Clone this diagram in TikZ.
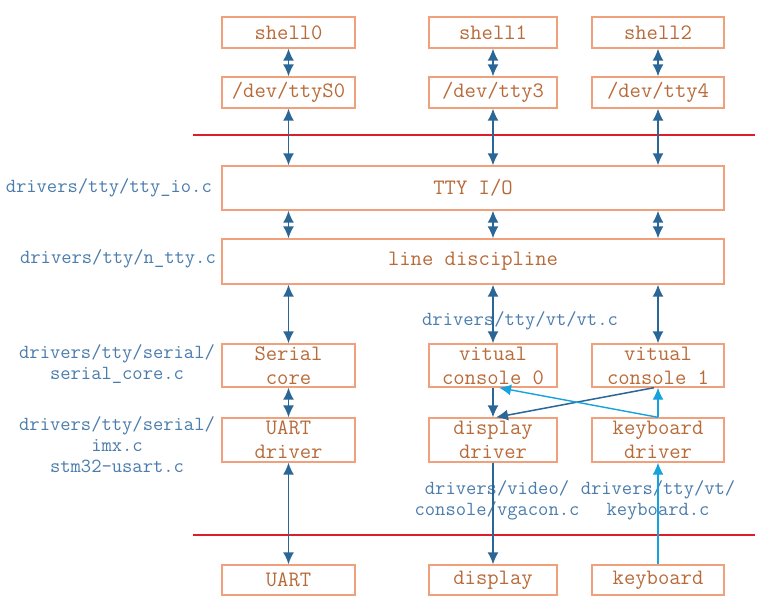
\documentclass[tikz,border=0pt]{standalone}
\usepackage{fontspec}
\usetikzlibrary{arrows.meta,calc}
\definecolor{boxline}{HTML}{F0A07A}
\definecolor{boxtext}{HTML}{B86A38}
\definecolor{darkarr}{HTML}{2A6696}
\definecolor{lightarr}{HTML}{16A2DE}
\definecolor{redline}{HTML}{DC1E28}
\definecolor{labtext}{HTML}{4A7CAC}
\tikzset{
  box/.style={draw=boxline, line width=1.4pt, text=boxtext, font=\ttfamily\fontsize{22}{24}\selectfont, align=center, inner sep=0pt, minimum height=31pt},
  colA/.style={minimum width=133pt},
  colB/.style={minimum width=128pt},
  colC/.style={minimum width=132pt},
  wide/.style={minimum width=502pt},
  lab/.style={text=labtext, font=\ttfamily\fontsize{20}{21}\selectfont, align=center, inner sep=0pt},
  darr/.style={draw=darkarr, line width=1.5pt, {Latex[length=12pt,width=11pt]}-{Latex[length=12pt,width=11pt]}},
  sarr/.style={draw=darkarr, line width=1.5pt, -{Latex[length=12pt,width=11pt]}},
  larr/.style={draw=lightarr, line width=1.4pt, -{Latex[length=12pt,width=11pt]}},
  sep/.style={draw=redline, line width=1.3pt}
}
\begin{document}
\begin{tikzpicture}[x=1pt,y=-1pt]
\useasboundingbox (0,0) rectangle (778,614);
% top boxes
\node[box,colA] (s0) at (288.5,32.5) {shell0};
\node[box,colB] (s1) at (493,32.5) {shell1};
\node[box,colC] (s2) at (658,32.5) {shell2};
\node[box,colA] (d0) at (288.5,92.5) {/dev/ttyS0};
\node[box,colB] (d3) at (493,92.5) {/dev/tty3};
\node[box,colC] (d4) at (658,92.5) {/dev/tty4};
% separator
\coordinate (r1a) at (193,135); \coordinate (r1b) at (755,135);
\draw[sep] (r1a) -- (r1b);
% wide boxes
\node[box,wide,minimum height=44pt] (tty) at (473,188) {TTY I/O};
\node[box,wide,minimum height=45pt] (ld) at (473,261.5) {line discipline};
% middle boxes
\node[box,colA,minimum height=43pt] (sc) at (288.5,365.5) {Serial\\core};
\node[box,colB,minimum height=43pt] (vc0) at (493,365.5) {vitual\\console 0};
\node[box,colC,minimum height=43pt] (vc1) at (658,365.5) {vitual\\console 1};
\node[box,colA,minimum height=44pt] (ud) at (288.5,440) {UART\\driver};
\node[box,colB,minimum height=44pt] (dd) at (493,440) {display\\driver};
\node[box,colC,minimum height=44pt] (kd) at (658,440) {keyboard\\driver};
% separator
\coordinate (r2a) at (193,535); \coordinate (r2b) at (755,535);
\draw[sep] (r2a) -- (r2b);
% bottom boxes
\node[box,colA,minimum height=30pt] (ua) at (288.5,580) {UART};
\node[box,colB,minimum height=30pt] (di) at (493,580) {display};
\node[box,colC,minimum height=30pt] (kb) at (658,580) {keyboard};
% labels
\node[lab,anchor=east] (l1) at (212,188) {drivers/tty/tty\_io.c};
\node[lab,anchor=east] (l2) at (216,259) {drivers/tty/n\_tty.c};
\node[lab] (l3) at (520,321) {drivers/tty/vt/vt.c};
\node[lab] (l4) at (117,364) {drivers/tty/serial/\\serial\_core.c};
\node[lab] (l5) at (117,445) {drivers/tty/serial/\\imx.c\\stm32-usart.c};
\node[lab] (l6) at (497,500) {drivers/video/\\console/vgacon.c};
\node[lab] (l7) at (658,500) {drivers/tty/vt/\\keyboard.c};
% arrows
\draw[darr] (s0.south) -- (d0.north);
\draw[darr] (s1.south) -- (d3.north);
\draw[darr] (s2.south) -- (d4.north);
\draw[darr] (d0.south) -- (d0 |- tty.north);
\draw[darr] (d3.south) -- (d3 |- tty.north);
\draw[darr] (d4.south) -- (d4 |- tty.north);
\draw[darr] (tty.south -| d0) -- (ld.north -| d0);
\draw[darr] (tty.south -| d3) -- (ld.north -| d3);
\draw[darr] (tty.south -| d4) -- (ld.north -| d4);
\draw[darr] (ld.south -| sc) -- (sc.north);
\draw[darr] (ld.south -| vc0) -- (vc0.north);
\draw[darr] (ld.south -| vc1) -- (vc1.north);
\draw[darr] (sc.south) -- (ud.north);
\draw[darr] (ud.south) -- (ua.north);
\draw[sarr] (vc0.south) -- (dd.north);
\draw[sarr] ([xshift=-4pt]vc1.south) -- ([xshift=3pt]dd.north);
\draw[sarr] (dd.south) -- (di.north);
\draw[larr] (kd.north) -- (vc1.south);
\draw[larr] (kd.north) -- ([xshift=6pt]vc0.south);
\draw[larr] (kb.north) -- (kd.south);
\end{tikzpicture}
\end{document}
